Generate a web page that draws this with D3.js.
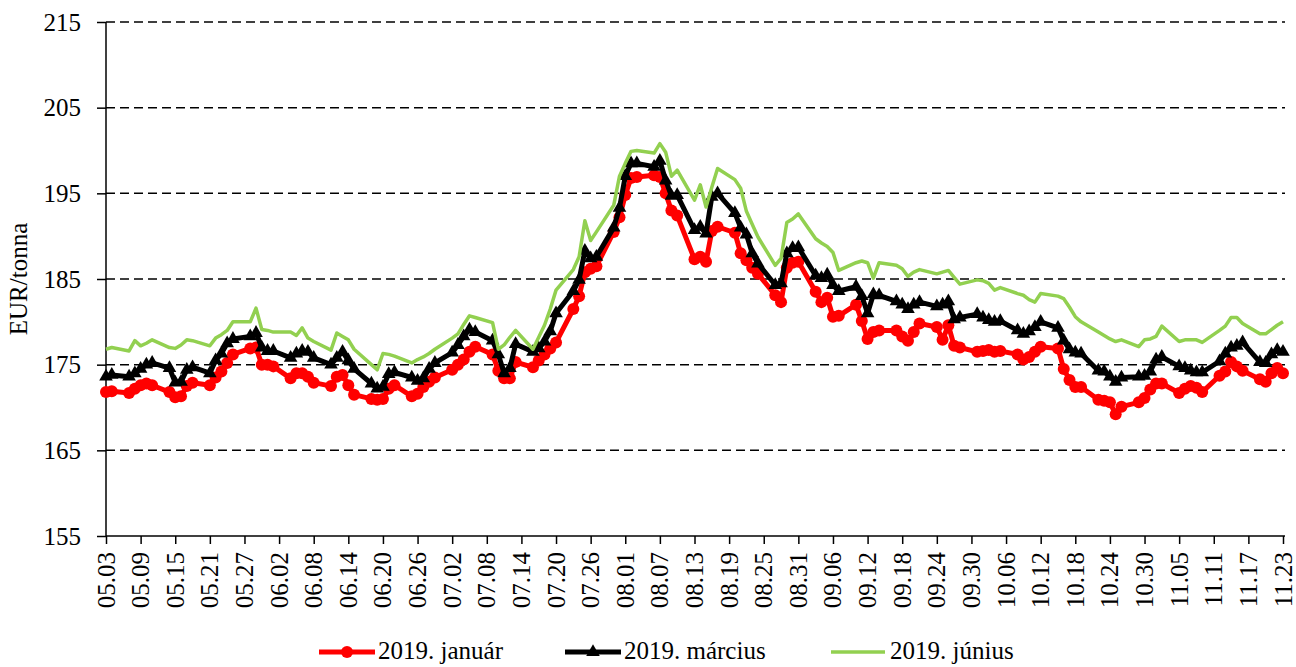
<!DOCTYPE html>
<html><head><meta charset="utf-8">
<script src="https://cdn.jsdelivr.net/npm/d3@7/dist/d3.min.js"></script>
<style>body{margin:0;background:#fff}svg{display:block}</style>
</head><body><svg id="c" width="1296" height="667"></svg>
<script>
// ---- data ----
const firstDay = "2018-05-03";
const lastDay = "2018-11-23";
const tickLabels = ["05.03","05.09","05.15","05.21","05.27","06.02","06.08","06.14","06.20","06.26",
  "07.02","07.08","07.14","07.20","07.26","08.01","08.07","08.13","08.19","08.25","08.31",
  "09.06","09.12","09.18","09.24","09.30","10.06","10.12","10.18","10.24","10.30",
  "11.05","11.11","11.17","11.23"];
const yTicks = [155,165,175,185,195,205,215];
const seriesNames = ["2019. január","2019. március","2019. június"];

const januar = [171.8,171.9,
 171.7,172.2,172.6,172.8,172.6, 171.8,171.2,171.3,172.5,172.9, 172.6,173.5,174.2,175.2,176.2,
 176.9,177.0,175.0,175.0,174.8, 173.4,174.0,174.0,173.6,172.9, 172.5,173.6,173.8,172.6,171.5,
 171.0,170.9,171.0,172.2,172.6, 171.3,171.6,172.4,173.0,173.5, 174.4,175.0,175.6,176.5,177.1,
 176.2,174.3,173.4,173.4,175.3, 174.7,175.5,176.2,176.9,177.6, 181.5,183.0,185.8,186.2,186.5,
 190.5,192.2,194.8,196.8,196.9, 197.1,196.9,195.0,193.0,192.4, 187.3,187.6,187.0,190.6,191.1,
 190.4,188.0,187.2,186.3,185.6, 183.1,182.3,186.3,186.9,187.0, 183.5,182.3,182.8,180.6,180.7,
 182.0,180.1,178.0,178.8,179.0, 179.0,178.3,177.8,178.8,179.8, 179.4,177.9,179.6,177.2,177.0,
 176.5,176.6,176.7,176.5,176.6, 176.2,175.6,175.9,176.5,177.1, 176.9,174.5,173.2,172.4,172.4,
 170.9,170.8,170.6,169.2,170.1, 170.6,171.1,172.1,172.8,172.8, 171.7,172.2,172.5,172.3,171.8,
 173.7,174.2,175.3,174.8,174.3, 173.3,173.0,174.0,174.6,174.0];

const marcius = [173.6,173.8,
 173.6,174.0,174.5,175.0,175.2, 174.6,172.9,173.0,174.4,174.7, 174.0,175.5,176.3,177.5,178.0,
 178.3,178.7,177.0,176.6,176.6, 175.8,176.3,176.6,176.5,175.8, 175.0,175.8,176.5,175.5,174.5,
 172.8,172.2,172.4,173.9,174.1, 173.5,173.1,173.4,174.5,175.2, 176.4,177.3,178.3,179.1,178.8,
 177.8,176.2,174.0,174.6,177.4, 176.5,176.9,177.7,178.9,181.0, 183.6,184.9,188.3,187.4,187.6,
 191.0,193.3,197.0,198.5,198.5, 198.1,198.8,196.5,194.7,194.8, 190.7,191.1,190.3,194.6,195.0,
 192.7,191.0,190.2,188.0,186.8, 184.3,184.5,188.0,188.6,188.7, 185.4,185.1,185.5,184.3,183.6,
 184.1,183.0,181.0,183.2,183.1, 182.4,182.0,181.5,182.0,182.3, 181.8,182.0,182.4,180.3,180.5,
 180.9,180.5,180.2,180.0,180.1, 179.0,178.6,178.9,179.4,180.0, 179.3,177.8,176.8,176.4,176.3,
 174.3,174.2,173.6,173.0,173.5, 173.6,173.7,174.2,175.6,175.9, 174.8,174.6,174.3,174.1,174.1,
 175.4,176.3,177.0,177.2,177.6, 175.3,175.2,176.2,176.7,176.5];

const junius = [176.8,177.0,
 176.6,177.8,177.2,177.5,177.9, 177.0,176.9,177.3,177.9,177.8, 177.2,178.1,178.5,179.0,180.0,
 180.0,181.6,179.1,179.0,178.8, 178.8,178.4,179.3,178.1,177.7, 176.7,178.7,178.3,177.9,176.8,
 175.0,174.4,176.3,176.2,176.0, 175.2,175.6,175.9,176.3,176.8, 178.1,178.6,179.7,180.7,180.5,
 179.9,176.8,177.3,178.2,179.0, 176.8,178.2,179.6,181.5,183.7, 186.1,187.6,191.8,189.5,190.5,
 193.6,197.0,198.5,199.9,200.0, 199.7,200.8,199.8,197.0,197.7, 194.2,196.0,193.4,195.7,197.9,
 196.6,195.6,192.9,191.4,189.9, 186.6,187.4,191.6,192.0,192.6, 189.7,189.2,188.8,188.1,186.0,
 186.9,187.1,186.9,185.1,186.9, 186.6,186.2,185.3,185.8,186.1, 185.6,185.8,186.0,185.2,184.4,
 184.9,184.8,184.5,183.7,184.0, 183.3,183.1,182.6,182.3,183.3, 183.0,182.7,181.7,180.6,180.0,
 178.8,178.4,178.0,177.7,177.9, 177.1,177.9,178.0,178.3,179.5, 177.7,177.9,177.9,177.9,177.6,
 179.0,179.5,180.5,180.5,179.8, 178.6,178.6,179.1,179.6,180.0];

// ---- chart ----
const parse = d3.timeParse("%Y-%m-%d");
const start = parse(firstDay), end = parse(lastDay);
const days = d3.timeDay.range(start, d3.timeDay.offset(end, 1))
  .filter(d => d.getDay() !== 0 && d.getDay() !== 6);
const tickDates = tickLabels.map(s => parse("2018-" + s.replace(".", "-")));

const svg = d3.select("#c");
const FONT = "'Liberation Serif','Times New Roman',serif";
const FS = 25;
const L = 106, R = 1285, T = 22, B = 536;
const x = d3.scaleTime().domain([start, end]).range([L, 1283]);
const y = d3.scaleLinear().domain([155, 215]).range([B, T]);

// gridlines
svg.append("g").selectAll("line").data(yTicks.filter(v => v > 155)).join("line")
  .attr("x1", L).attr("x2", R).attr("y1", d => y(d)).attr("y2", d => y(d))
  .attr("stroke", "#000").attr("stroke-width", 1.5).attr("stroke-dasharray", "9,5");

// axes
const yAxis = svg.append("g").attr("transform", `translate(${L},0)`)
  .call(d3.axisLeft(y).tickValues(yTicks).tickSize(9).tickSizeOuter(0).tickPadding(16));
const xAxis = svg.append("g").attr("transform", `translate(0,${B})`)
  .call(d3.axisBottom(x).tickValues(tickDates).tickFormat(d3.timeFormat("%m.%d")).tickSize(8).tickSizeOuter(0));
[yAxis, xAxis].forEach(g => {
  g.selectAll("path,line").attr("stroke", "#000").attr("stroke-width", 1.5);
  g.selectAll("text").attr("font-family", FONT).attr("font-size", FS).attr("fill", "#000");
});
xAxis.select(".domain").attr("d", `M${L},0H${R}`);
yAxis.select(".domain").attr("d", `M0,${B}V${T}`);
xAxis.selectAll("text")
  .attr("text-anchor", "end")
  .attr("transform", "rotate(-90)")
  .attr("x", -16).attr("y", 0).attr("dy", "0.32em");

// axis title
svg.append("text").attr("transform", `translate(27,${(T + B) / 2}) rotate(-90)`)
  .attr("text-anchor", "middle").attr("font-family", FONT).attr("font-size", FS)
  .text("EUR/tonna");

// series
const line = d3.line().x((d, i) => x(days[i])).y(d => y(d));
const series = [
  {name: seriesNames[0], values: januar, color: "#FF0000", width: 5, marker: "circle"},
  {name: seriesNames[1], values: marcius, color: "#000000", width: 5, marker: "triangle"},
  {name: seriesNames[2], values: junius, color: "#92D050", width: 3.5, marker: null}
];
const tri = d3.symbol().type(d3.symbolTriangle).size(80);
series.forEach(s => {
  const g = svg.append("g");
  g.append("path").datum(s.values).attr("d", line)
    .attr("fill", "none").attr("stroke", s.color).attr("stroke-width", s.width)
    .attr("stroke-linejoin", "round");
  if (s.marker === "circle") {
    g.selectAll("circle").data(s.values).join("circle")
      .attr("cx", (d, i) => x(days[i])).attr("cy", d => y(d)).attr("r", 6).attr("fill", s.color);
  } else if (s.marker === "triangle") {
    g.selectAll("path.m").data(s.values).join("path").attr("class", "m")
      .attr("transform", (d, i) => `translate(${x(days[i])},${y(d)})`)
      .attr("d", tri).attr("fill", s.color);
  }
});

// legend
const legend = [
  {x1: 319, x2: 375, tx: 378},
  {x1: 565, x2: 621, tx: 624},
  {x1: 831, x2: 885, tx: 890}
];
const ly = 652;
series.forEach((s, i) => {
  const p = legend[i];
  const g = svg.append("g");
  g.append("line").attr("x1", p.x1).attr("x2", p.x2).attr("y1", ly).attr("y2", ly)
    .attr("stroke", s.color).attr("stroke-width", s.width);
  const cx = (p.x1 + p.x2) / 2;
  if (s.marker === "circle") g.append("circle").attr("cx", cx).attr("cy", ly).attr("r", 6).attr("fill", s.color);
  if (s.marker === "triangle") g.append("path").attr("transform", `translate(${cx},${ly})`).attr("d", tri).attr("fill", s.color);
  g.append("text").attr("x", p.tx).attr("y", ly + 7).attr("font-family", FONT).attr("font-size", 25)
    .text(s.name);
});
</script></body></html>
